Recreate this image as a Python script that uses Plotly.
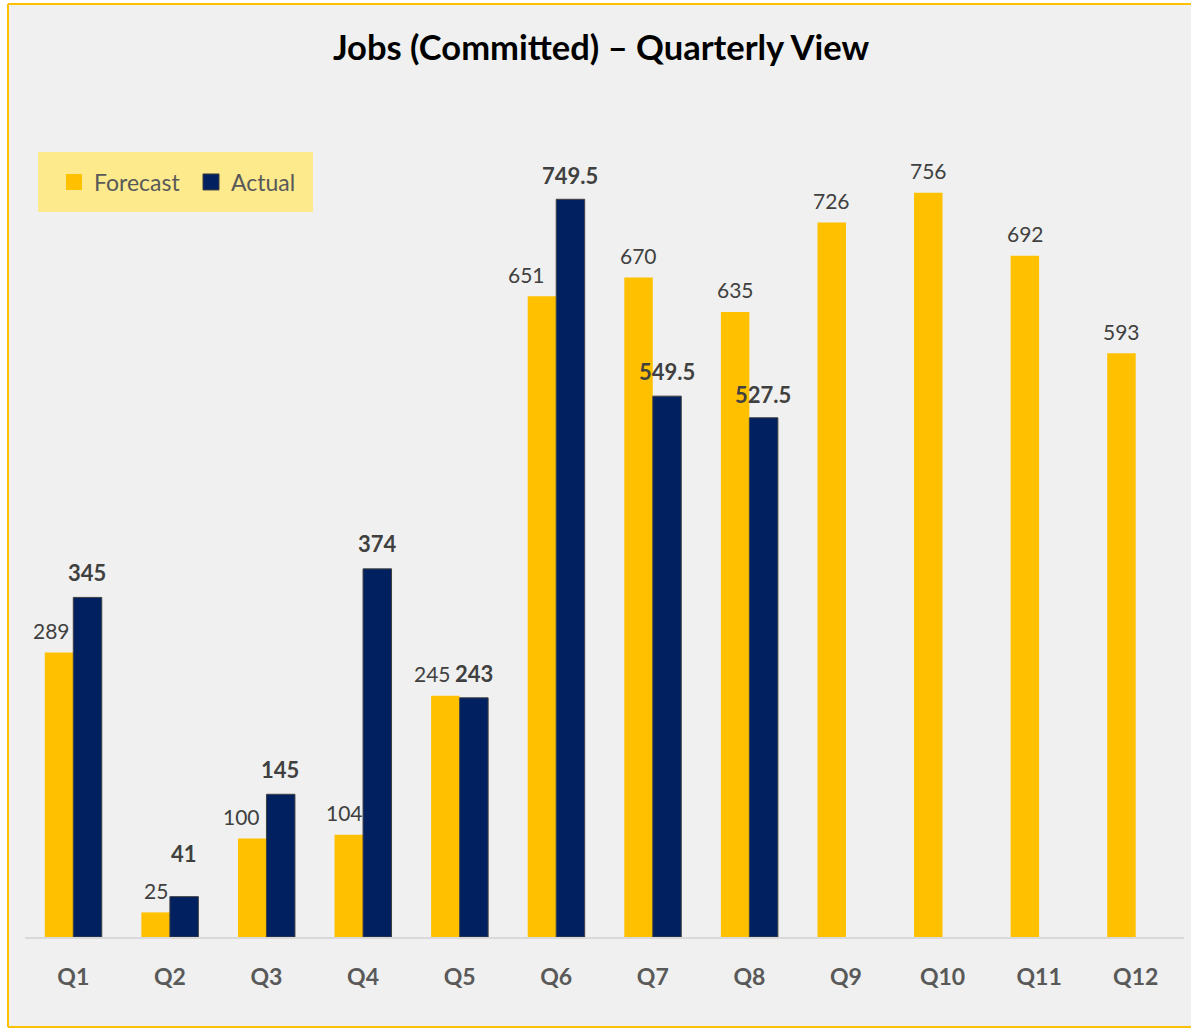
import plotly.graph_objects as go

quarters = ["Q1", "Q2", "Q3", "Q4", "Q5", "Q6", "Q7", "Q8", "Q9", "Q10", "Q11", "Q12"]
forecast = [289, 25, 100, 104, 245, 651, 670, 635, 726, 756, 692, 593]
actual = [345, 41, 145, 374, 243, 749.5, 549.5, 527.5, None, None, None, None]

# label styling (pixel nudges, not data)
f_xshift = [-22, -14, -25, -19, -27, -30, -14, -14, -14, -14, -14, -14]
f_yshift = [22] * 12
a_xshift = [14] * 12
a_yshift = [25, 43, 25, 25, 24, 24, 25, 23, 25, 25, 25, 25]

YELLOW = "#FFC000"
NAVY = "#002060"
BG = "#EFF0EF"
FONT = "Lato"

fig = go.Figure()
fig.add_trace(go.Bar(name="Forecast", x=quarters, y=forecast, showlegend=False,
                     marker=dict(color=YELLOW, line=dict(width=0))))
fig.add_trace(go.Bar(name="Actual", x=quarters, y=actual, showlegend=False,
                     marker=dict(color=NAVY, line=dict(color="#404040", width=1))))
# legend entries with larger square swatches
fig.add_trace(go.Scatter(name="Forecast", x=[None], y=[None], mode="markers",
                         marker=dict(symbol="square", size=16, color=YELLOW, line=dict(width=0))))
fig.add_trace(go.Scatter(name="Actual", x=[None], y=[None], mode="markers",
                         marker=dict(symbol="square", size=16, color=NAVY,
                                     line=dict(color="#404040", width=1))))

ann = []
for i, q in enumerate(quarters):
    ann.append(dict(x=q, y=forecast[i], xref="x", yref="y", text=str(forecast[i]),
                    showarrow=False, xanchor="center", yanchor="middle",
                    xshift=f_xshift[i], yshift=f_yshift[i],
                    font=dict(family=FONT, size=21, color="#404040")))
    if actual[i] is not None:
        v = actual[i]
        txt = f"{v:g}"
        ann.append(dict(x=q, y=v, xref="x", yref="y", text=f"<b>{txt}</b>",
                        showarrow=False, xanchor="center", yanchor="middle",
                        xshift=a_xshift[i], yshift=a_yshift[i],
                        font=dict(family=FONT, size=22, color="#404040")))

W, H = 1191, 1029
L, R, T, B = 25, 7, 100, 92
pw, ph = W - L - R, H - T - B

def px2x(px):
    return (px - L) / pw

def py2y(py):
    return (H - B - py) / ph

RIGHT = 1300
frame_line = dict(color=YELLOW, width=2)
shapes = [
    # chart frame fill
    dict(type="rect", xref="paper", yref="paper",
         x0=px2x(8), x1=px2x(RIGHT), y0=py2y(1027), y1=py2y(4),
         fillcolor=BG, line=dict(width=0), layer="below"),
    # frame edges (top, left, bottom)
    dict(type="line", xref="paper", yref="paper", x0=px2x(8), x1=px2x(RIGHT),
         y0=py2y(4), y1=py2y(4), line=frame_line, layer="below"),
    dict(type="line", xref="paper", yref="paper", x0=px2x(8), x1=px2x(8),
         y0=py2y(4), y1=py2y(1027), line=frame_line, layer="below"),
    dict(type="line", xref="paper", yref="paper", x0=px2x(8), x1=px2x(RIGHT),
         y0=py2y(1027), y1=py2y(1027), line=frame_line, layer="below"),
    # legend box
    dict(type="rect", xref="paper", yref="paper",
         x0=px2x(38), x1=px2x(313), y0=py2y(212), y1=py2y(152),
         fillcolor="#FCEA8C", line=dict(width=0), layer="below"),
]

fig.update_layout(
    width=W, height=H,
    margin=dict(l=L, r=R, t=T, b=B),
    paper_bgcolor="white",
    plot_bgcolor="rgba(0,0,0,0)",
    barmode="group",
    bargap=0.41,
    bargroupgap=0,
    title=dict(text="<b>Jobs (Committed) – Quarterly View</b>",
               x=601 / W, xref="container", xanchor="center",
               y=1 - 48 / H, yref="container", yanchor="middle",
               font=dict(family=FONT, size=34.5, color="black")),
    legend=dict(orientation="h", x=px2x(54), y=py2y(182), xanchor="left", yanchor="middle",
                bgcolor="rgba(0,0,0,0)", font=dict(family=FONT, size=23, color="#595959"),
                itemwidth=30, entrywidth=92, traceorder="normal"),
    xaxis=dict(showline=True, linecolor="#D9D9D9", linewidth=2, showgrid=False,
               ticks="", ticklabelstandoff=18,
               tickfont=dict(family=FONT, size=23, color="#595959", weight="bold"),
               fixedrange=True),
    yaxis=dict(visible=False, range=[0, ph / 0.9843], showgrid=False, zeroline=False),
    annotations=ann,
    shapes=shapes,
    showlegend=True,
)

fig.write_html("out.html", config={"displayModeBar": False},
               post_script="document.body.style.margin='0';document.body.style.overflow='hidden';")
